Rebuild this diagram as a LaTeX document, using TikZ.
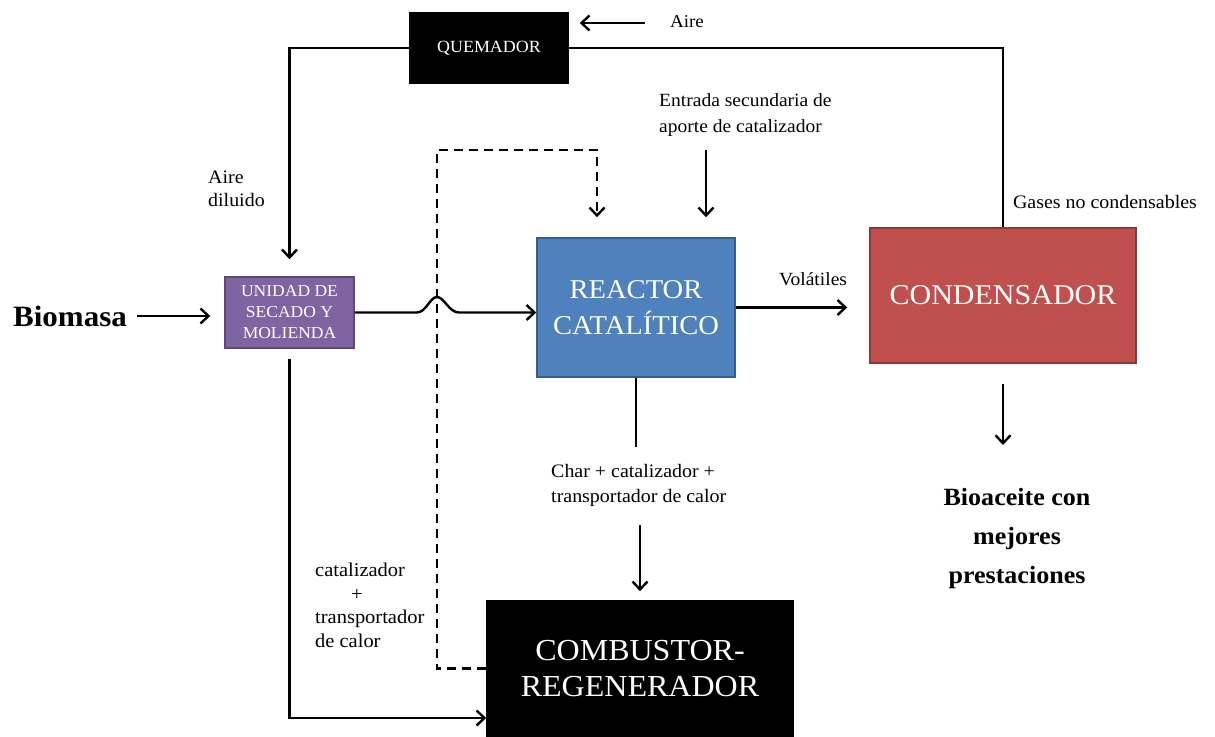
\documentclass[tikz,border=0pt]{standalone}
\usepackage{fontspec}
\setmainfont{Liberation Serif}[FakeStretch=1.05]
\usetikzlibrary{arrows.meta,calc}
\definecolor{cblue}{HTML}{4F81BD}
\definecolor{cblueb}{HTML}{385D8A}
\definecolor{cred}{HTML}{C0504D}
\definecolor{credb}{HTML}{8C3836}
\definecolor{cpurp}{HTML}{8064A2}
\definecolor{cpurpb}{HTML}{5C4776}
\tikzset{
  box/.style={draw, line width=1.5pt, inner sep=0pt, text=white, align=center},
  lbl/.style={inner sep=0pt, align=left},
  conn/.style={line width=2.4pt},
  tip/.style={-{Straight Barb[length=8pt,width=15pt]}},
  arr/.style={conn, tip},
  dashline/.style={conn, dash pattern=on 9pt off 6pt},
}
\begin{document}
\begin{tikzpicture}[x=1pt,y=-1pt]
\useasboundingbox (0,0) rectangle (1215,736);
% boxes
\node[box, fill=black, minimum width=158pt, minimum height=70pt,
      font=\fontsize{17.1}{20}\selectfont] (quem) at (489,48) {QUEMADOR};
\node[box, fill=cpurp, draw=cpurpb, minimum width=129pt, minimum height=71pt,
      font=\fontsize{16.7}{21}\selectfont] (unidad) at (289.5,312.5) {UNIDAD DE\\SECADO Y\\MOLIENDA};
\node[box, fill=cblue, draw=cblueb, minimum width=198pt, minimum height=139pt,
      font=\fontsize{27.2}{36}\selectfont] (reactor) at (636,307.5) {REACTOR\\CATALÍTICO};
\node[box, fill=cred, draw=credb, minimum width=266pt, minimum height=135pt,
      font=\fontsize{28.6}{34}\selectfont] (cond) at (1003,295.5) {CONDENSADOR};
\node[box, fill=black, minimum width=306pt, minimum height=135pt,
      font=\fontsize{30.5}{36}\selectfont] (comb) at (640,668.5) {COMBUSTOR-\\REGENERADOR};
% labels
\node[lbl, font=\fontsize{18.1}{22}\selectfont] (aire) at (687,22) {Aire};
\node[lbl, anchor=west, font=\fontsize{19}{23}\selectfont] (diluido) at (208,189) {Aire\\diluido};
\node[lbl, font=\bfseries\fontsize{29.5}{34}\selectfont] (biomasa) at (70,316) {Biomasa};
\node[lbl, anchor=west, font=\fontsize{18.6}{26}\selectfont] (entrada) at (659,115) {Entrada secundaria de\\aporte de catalizador};
\node[lbl, font=\fontsize{18.6}{22}\selectfont] (volat) at (813,279) {Volátiles};
\node[lbl, font=\fontsize{19}{22}\selectfont] (gases) at (1105,202) {Gases no condensables};
\node[lbl, anchor=west, font=\fontsize{19}{25}\selectfont] (char) at (551,485) {Char + catalizador +\\transportador de calor};
\node[lbl, anchor=north west, font=\fontsize{19.5}{23.5}\selectfont] (catal) at (315,563) {catalizador\\\hspace*{36pt}+\\transportador\\de calor};
\node[lbl, align=center, font=\bfseries\fontsize{24.8}{39}\selectfont] (bio) at (1017,539) {Bioaceite con\\mejores\\prestaciones};
% coordinates
\coordinate (airetail) at (645,23);
\coordinate (dbot) at (437,150);
\coordinate (dtop) at (597,150);
\coordinate (etail) at (706,150);
\coordinate (biotip) at (998,445);
\coordinate (lb) at (286,718);
% connectors
\draw[arr, shorten >=11pt] (airetail) -- (airetail -| quem.east);
\draw[conn] (quem.east) -- (cond.north |- quem.east) -- (cond.north);
\draw[arr, shorten >=17pt] (quem.west) -- (unidad.north |- quem.west) -- (unidad.north);
\draw[arr, shorten <=10pt, shorten >=14pt] (biomasa.east) -- (biomasa.east -| unidad.west);
\draw[arr] (unidad.east) -- (417,312.5) .. controls (426,312.5) and (430,297) .. (437,297)
   .. controls (444,297) and (449,312.5) .. (459,312.5) -- (reactor.west |- unidad.east);
\draw[dashline, tip, shorten >=20pt]
   (comb.west) -- (comb.west -| dbot) -- (dbot) -- (dtop) -- (dtop |- reactor.north);
\draw[arr, shorten >=20pt] (etail) -- (etail |- reactor.north);
\draw[arr, shorten >=22pt] (reactor.east) -- (cond.west |- reactor.east);
\draw[arr, shorten <=20pt] (cond.south) -- (cond.south |- biotip);
\draw[conn, shorten >=17pt] (reactor.south) -- (reactor.south |- char.north);
\draw[arr, shorten <=19pt, shorten >=9pt] (comb.north |- char.south) -- (comb.north);
\draw[arr, shorten <=10pt] (unidad.south) -- (unidad.south |- lb) -- (comb.west |- lb);
\end{tikzpicture}
\end{document}
